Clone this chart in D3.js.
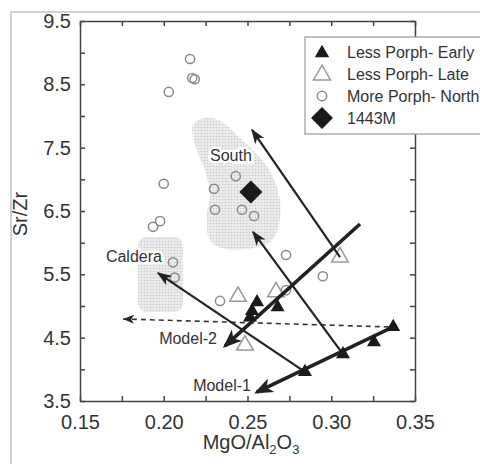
<!DOCTYPE html>
<html>
<head>
<meta charset="utf-8">
<script src="https://cdn.jsdelivr.net/npm/d3@7"></script>
<style>
  body { margin: 0; background: #fff; }
  svg { font-family: "Liberation Sans", Arial, sans-serif; }
</style>
</head>
<body>
<div class="chart"></div>
<script>
// Data
const xMajor = [0.15, 0.20, 0.25, 0.30, 0.35];
const xMinor = [0.175, 0.225, 0.275, 0.325];
const yMajor = [3.5, 4.5, 5.5, 6.5, 7.5, 8.5, 9.5];
const yMinor = [4.0, 5.0, 6.0, 7.0, 8.0, 9.0];

const lessEarly = [[0.337, 4.67], [0.3255, 4.43], [0.307, 4.24], [0.2843, 3.96],
    [0.268, 4.98], [0.2557, 5.06], [0.2527, 4.92], [0.2515, 4.82]];
const lessLate = [[0.3052, 5.77], [0.2443, 5.15], [0.267, 5.22], [0.2485, 4.38]];
const moreNorth = [[0.2157, 8.90], [0.217, 8.60], [0.2185, 8.58], [0.203, 8.38],
    [0.200, 6.93], [0.230, 6.85], [0.2306, 6.52], [0.1978, 6.34], [0.1936, 6.25],
    [0.243, 7.05], [0.2467, 6.52], [0.2539, 6.42], [0.2055, 5.69], [0.2065, 5.45],
    [0.273, 5.805], [0.2336, 5.08], [0.273, 5.25], [0.295, 5.47]];
const sample1443M = [[0.252, 6.80]];

// model trends
const model1 = [[0.337, 4.67], [0.2555, 3.64]];
const model2 = [[0.3172, 6.295], [0.2366, 4.37]];
const dashedTrend = [[0.3343, 4.67], [0.1757, 4.795]];
const thinArrows = [
    [[0.3052, 5.77], [0.2527, 7.78]],
    [[0.307, 4.24], [0.2533, 6.17]],
    [[0.2843, 3.96], [0.1966, 5.52]]
];

// shaded fields
const southField = [[0.2175, 7.86], [0.2246, 7.97], [0.2348, 7.91], [0.2455, 7.65],
    [0.2563, 7.38], [0.2646, 7.07], [0.2694, 6.67], [0.2688, 6.28], [0.2646, 6.04],
    [0.2545, 5.92], [0.2366, 5.90], [0.2276, 6.04], [0.2258, 6.44], [0.2276, 6.75],
    [0.2246, 7.15], [0.2187, 7.54]];
const calderaField = [0.1846, 0.2115, 4.905, 6.09]; // x0, x1, y0, y1

const fieldLabels = [['South', 0.2401, 7.38], ['Caldera', 0.1822, 5.79]];
const modelLabels = [['Model-2', 0.2145, 4.495], ['Model-1', 0.2348, 3.75]];

const legendItems = ['Less Porph- Early', 'Less Porph- Late', 'More Porph- North', '1443M'];

// Setup
const svgWidth = 480;
const svgHeight = 464;
const margin = { top: 21, right: 65, bottom: 63, left: 80 };
const width = svgWidth - margin.left - margin.right;
const height = svgHeight - margin.top - margin.bottom;

const xScale = d3.scaleLinear().domain([0.15, 0.35]).range([0, width]);
const yScale = d3.scaleLinear().domain([3.5, 9.5]).range([height, 0]);

const root = d3.select('.chart')
    .append('svg')
    .attr('width', svgWidth)
    .attr('height', svgHeight);

// outer panel border
root.append('rect')
    .attr('x', 11).attr('y', 12)
    .attr('width', 490).attr('height', 470)
    .attr('fill', 'none')
    .attr('stroke', '#d2d2d2')
    .attr('stroke-width', 2);

const defs = root.append('defs');

// stippled fill for the fields
const pat = defs.append('pattern')
    .attr('id', 'stipple')
    .attr('patternUnits', 'userSpaceOnUse')
    .attr('width', 3).attr('height', 3);
pat.append('rect').attr('width', 3).attr('height', 3).attr('fill', '#ececec');
pat.append('circle').attr('cx', 1.5).attr('cy', 1.5).attr('r', 0.8).attr('fill', '#cbcbcb');

function addMarker(id, len, half, notch, shift) {
    defs.append('marker')
        .attr('id', id)
        .attr('markerUnits', 'userSpaceOnUse')
        .attr('viewBox', '-30 -15 40 30')
        .attr('markerWidth', 40).attr('markerHeight', 30)
        .attr('refX', -shift).attr('refY', 0)
        .attr('orient', 'auto')
        .style('overflow', 'visible')
        .append('path')
        .attr('d', `M0,0 L${-len},${-half} L${-len + notch},0 L${-len},${half} Z`)
        .attr('fill', '#222');
}
addMarker('headThick', 19, 7.5, 5, 3);
addMarker('headThin', 15, 5.5, 4, 1.5);
addMarker('headDash', 11, 4.5, 3, 0);

const svg = root.append('g')
    .attr('transform', 'translate(' + margin.left + ',' + margin.top + ')');

// Shaded fields
svg.append('path')
    .datum(southField)
    .attr('d', d3.line()
        .x(d => xScale(d[0]))
        .y(d => yScale(d[1]))
        .curve(d3.curveCatmullRomClosed))
    .attr('fill', 'url(#stipple)');

svg.append('rect')
    .attr('x', xScale(calderaField[0]))
    .attr('y', yScale(calderaField[3]))
    .attr('width', xScale(calderaField[1]) - xScale(calderaField[0]))
    .attr('height', yScale(calderaField[2]) - yScale(calderaField[3]))
    .attr('rx', 9)
    .attr('fill', 'url(#stipple)');

svg.selectAll('.field-label')
    .data(fieldLabels)
    .enter()
    .append('text')
    .attr('class', 'field-label')
    .attr('x', d => xScale(d[1]))
    .attr('y', d => yScale(d[2]))
    .attr('dy', '0.35em')
    .attr('text-anchor', 'middle')
    .attr('font-size', 16)
    .attr('fill', '#333')
    .attr('stroke', '#fff')
    .attr('stroke-width', 5)
    .attr('paint-order', 'stroke')
    .text(d => d[0]);

// Axes
const allX = xMajor.concat(xMinor).sort(d3.ascending);
const allY = yMajor.concat(yMinor).sort(d3.ascending);
const fmtX = d => (xMajor.some(v => Math.abs(v - d) < 1e-9) ? d3.format('.2f')(d) : '');
const fmtY = d => (yMajor.some(v => Math.abs(v - d) < 1e-9) ? d3.format('.1f')(d) : '');

const xAxis = d3.axisBottom(xScale).tickValues(allX).tickFormat(fmtX)
    .tickSizeInner(-5).tickSizeOuter(0).tickPadding(14);
const yAxis = d3.axisLeft(yScale).tickValues(allY).tickFormat(fmtY)
    .tickSizeInner(-5).tickSizeOuter(0).tickPadding(9);
const xTop = d3.axisTop(xScale).tickValues(allX).tickFormat('')
    .tickSizeInner(-5).tickSizeOuter(0);
const yRight = d3.axisRight(yScale).tickValues(allY).tickFormat('')
    .tickSizeInner(-5).tickSizeOuter(0);

const gx = svg.append('g').attr('transform', 'translate(0,' + height + ')').call(xAxis);
const gy = svg.append('g').call(yAxis);
const gt = svg.append('g').call(xTop);
const gr = svg.append('g').attr('transform', 'translate(' + width + ',0)').call(yRight);

[gx, gy, gt, gr].forEach(g => {
    g.selectAll('path, line').attr('stroke', '#444').attr('stroke-width', 1.5);
    g.selectAll('text')
        .attr('font-size', 20)
        .attr('fill', '#333')
        .attr('font-family', '"Liberation Sans", Arial, sans-serif');
});

// axis titles
root.append('text')
    .attr('transform', 'translate(27,214) rotate(-90)')
    .attr('text-anchor', 'middle')
    .attr('font-size', 20)
    .attr('fill', '#333')
    .text('Sr/Zr');

const xt = root.append('text')
    .attr('x', 251).attr('y', 449)
    .attr('text-anchor', 'middle')
    .attr('font-size', 20)
    .attr('fill', '#333');
xt.append('tspan').text('MgO/Al');
xt.append('tspan').attr('font-size', 13).attr('dy', 5).text('2');
xt.append('tspan').attr('dy', -5).text('O');
xt.append('tspan').attr('font-size', 13).attr('dy', 5).text('3');

// Trend lines
const lineGen = d3.line().x(d => xScale(d[0])).y(d => yScale(d[1]));

svg.append('path')
    .datum(dashedTrend)
    .attr('d', lineGen)
    .attr('fill', 'none')
    .attr('stroke', '#333')
    .attr('stroke-width', 1.6)
    .attr('stroke-dasharray', '5,4')
    .attr('marker-end', 'url(#headDash)');

// Points
const sym = (type, size) => d3.symbol().type(type).size(size)();

svg.selectAll('.north')
    .data(moreNorth)
    .enter()
    .append('circle')
    .attr('class', 'north')
    .attr('cx', d => xScale(d[0]))
    .attr('cy', d => yScale(d[1]))
    .attr('r', 4.6)
    .attr('fill', 'none')
    .attr('stroke', '#8a8a8a')
    .attr('stroke-width', 1.5);

svg.selectAll('.late')
    .data(lessLate)
    .enter()
    .append('path')
    .attr('class', 'late')
    .attr('d', sym(d3.symbolTriangle, 120))
    .attr('transform', d => 'translate(' + xScale(d[0]) + ',' + yScale(d[1]) + ')')
    .attr('fill', '#fff')
    .attr('stroke', '#999')
    .attr('stroke-width', 1.5);

thinArrows.forEach(a => {
    svg.append('path')
        .datum(a)
        .attr('d', lineGen)
        .attr('fill', 'none')
        .attr('stroke', '#222')
        .attr('stroke-width', 2.2)
        .attr('marker-end', 'url(#headThin)');
});

[model1, model2].forEach(a => {
    svg.append('path')
        .datum(a)
        .attr('d', lineGen)
        .attr('fill', 'none')
        .attr('stroke', '#222')
        .attr('stroke-width', 3.6)
        .attr('marker-end', 'url(#headThick)');
});

svg.selectAll('.early')
    .data(lessEarly)
    .enter()
    .append('path')
    .attr('class', 'early')
    .attr('d', sym(d3.symbolTriangle, 85))
    .attr('transform', d => 'translate(' + xScale(d[0]) + ',' + yScale(d[1]) + ')')
    .attr('fill', '#1a1a1a');

svg.selectAll('.m1443')
    .data(sample1443M)
    .enter()
    .append('path')
    .attr('class', 'm1443')
    .attr('d', sym(d3.symbolSquare, 265))
    .attr('transform', d => 'translate(' + xScale(d[0]) + ',' + yScale(d[1]) + ') rotate(45)')
    .attr('fill', '#1a1a1a');

svg.selectAll('.model-label')
    .data(modelLabels)
    .enter()
    .append('text')
    .attr('class', 'model-label')
    .attr('x', d => xScale(d[1]))
    .attr('y', d => yScale(d[2]))
    .attr('dy', '0.35em')
    .attr('text-anchor', 'middle')
    .attr('font-size', 16)
    .attr('fill', '#333')
    .text(d => d[0]);

// Legend
const legend = root.append('g').attr('transform', 'translate(305,37)');
legend.append('rect')
    .attr('width', 200).attr('height', 97)
    .attr('fill', '#fff')
    .attr('stroke', '#999')
    .attr('stroke-width', 1.2);

const legendSym = [
    { d: sym(d3.symbolTriangle, 90), fill: '#1a1a1a', stroke: 'none', rot: 0 },
    { d: sym(d3.symbolTriangle, 125), fill: '#fff', stroke: '#999', rot: 0 },
    { d: sym(d3.symbolCircle, 70), fill: 'none', stroke: '#8a8a8a', rot: 0 },
    { d: sym(d3.symbolSquare, 240), fill: '#1a1a1a', stroke: 'none', rot: 45 }
];

const rows = legend.selectAll('.leg')
    .data(legendItems)
    .enter()
    .append('g')
    .attr('class', 'leg')
    .attr('transform', (d, i) => 'translate(0,' + (15 + i * 22) + ')');

rows.append('path')
    .attr('d', (d, i) => legendSym[i].d)
    .attr('transform', (d, i) => 'translate(17,' + (i < 2 ? 1 : 0) + ') rotate(' + legendSym[i].rot + ')')
    .attr('fill', (d, i) => legendSym[i].fill)
    .attr('stroke', (d, i) => legendSym[i].stroke)
    .attr('stroke-width', 1.5);

rows.append('text')
    .attr('x', 42)
    .attr('dy', '0.35em')
    .attr('font-size', 16)
    .attr('fill', '#333')
    .text(d => d);
</script>
</body>
</html>
